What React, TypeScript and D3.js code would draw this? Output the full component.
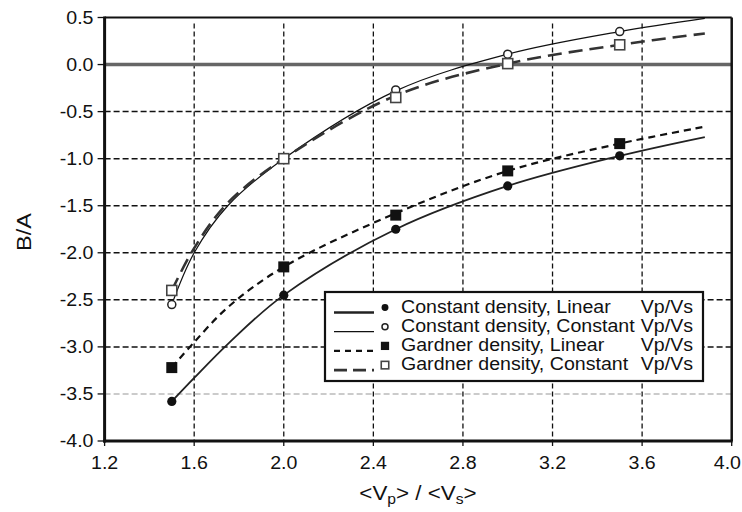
import * as d3 from 'd3';

// marker positions
const markerX = [1.5, 2.0, 2.5, 3.0, 3.5];
const constLinear = [-3.58, -2.45, -1.75, -1.29, -0.97];
const constConstant = [-2.55, -1.0, -0.27, 0.11, 0.35];
const gardLinear = [-3.22, -2.15, -1.6, -1.13, -0.84];
const gardConstant = [-2.4, -1.0, -0.35, 0.01, 0.21];

// fitted curves
const curveX = [1.5, 1.6, 1.75, 2.0, 2.5, 3.0, 3.5, 3.88];
const constLinearCurve = [-3.58, -3.33, -2.97, -2.45, -1.75, -1.29, -0.97, -0.77];
const constConstantCurve = [-2.55, -2.0, -1.5, -1.0, -0.28, 0.11, 0.35, 0.49];
const gardLinearCurve = [-3.22, -2.95, -2.58, -2.15, -1.58, -1.13, -0.84, -0.66];
const gardConstantCurve = [-2.4, -1.95, -1.47, -1.0, -0.33, 0.01, 0.21, 0.33];

const xTicks = [1.2, 1.6, 2.0, 2.4, 2.8, 3.2, 3.6, 4.0];
const yTicks = [0.5, 0.0, -0.5, -1.0, -1.5, -2.0, -2.5, -3.0, -3.5, -4.0];

const legendLabels = [
  'Constant density, Linear',
  'Constant density, Constant',
  'Gardner density, Linear',
  'Gardner density, Constant',
];

const W = 742;
const H = 512;
const left = 104.6, right = 731.7, top = 17.5, bottom = 441;
const font = '"Liberation Sans", Arial, Helvetica, sans-serif';

export default function App() {
  const x = d3.scaleLinear().domain([1.2, 4.0]).range([left, right]);
  const y = d3.scaleLinear().domain([-4, 0.5]).range([bottom, top]);

  const line = d3.line<[number, number]>()
    .x(d => x(d[0]))
    .y(d => y(d[1]))
    .curve(d3.curveCatmullRom.alpha(0.5));

  const path = (ys: number[]) => line(curveX.map((v, i) => [v, ys[i]]))!;

  const series = [
    { curve: constLinearCurve, pts: constLinear, marker: 'dot', stroke: '#222', width: 1.8, dash: undefined as string | undefined },
    { curve: constConstantCurve, pts: constConstant, marker: 'ring', stroke: '#111', width: 1.2, dash: undefined },
    { curve: gardLinearCurve, pts: gardLinear, marker: 'sq', stroke: '#111', width: 2.2, dash: '7,5' },
    { curve: gardConstantCurve, pts: gardConstant, marker: 'osq', stroke: '#333', width: 2.6, dash: '14,7' },
  ];

  const drawMarker = (kind: string, cx: number, cy: number, s: number, key?: string | number) => {
    if (kind === 'dot') return <circle key={key} cx={cx} cy={cy} r={4.6 * s} fill="#111" />;
    if (kind === 'ring') return <circle key={key} cx={cx} cy={cy} r={4 * s} fill="#fff" stroke="#222" strokeWidth={1.5} />;
    if (kind === 'sq') return <rect key={key} x={cx - 5.5 * s} y={cy - 5.5 * s} width={11 * s} height={11 * s} fill="#111" />;
    return <rect key={key} x={cx - 5 * s} y={cy - 5 * s} width={10 * s} height={10 * s} fill="#fff" stroke="#444" strokeWidth={1.6} />;
  };

  const stretch = (tx: number, ty: number, k = 1.12) => `translate(${tx},${ty}) scale(${k},1)`;

  const lgX = 325, lgY = 292, lgW = 378, lgH = 89;
  const rowY = (i: number) => lgY + 20.5 + i * 19.2;

  return (
    <svg width={W} height={H} style={{ position: 'absolute', left: 0, top: 0, background: '#fff' }} fontFamily={font}>
      <rect width={W} height={H} fill="#fff" />

      {/* grid */}
      {xTicks.slice(1, -1).map(t => (
        <line key={'gx' + t} x1={x(t)} x2={x(t)} y1={top + 6} y2={bottom} stroke="#111" strokeWidth={1.3} strokeDasharray="5,3" />
      ))}
      {yTicks.filter(t => t < 0 && t > -4).map(t => (
        <line key={'gy' + t} x1={left} x2={right} y1={y(t)} y2={y(t)}
          stroke={t === -3.5 ? '#bbb' : '#111'} strokeWidth={1.5} strokeDasharray="6,3" />
      ))}
      <line x1={left} x2={right} y1={y(0)} y2={y(0)} stroke="#666" strokeWidth={3.5} />

      {/* curves */}
      {series.map((s, i) => (
        <path key={'c' + i} d={path(s.curve)} fill="none" stroke={s.stroke} strokeWidth={s.width} strokeDasharray={s.dash} />
      ))}
      {series.map((s, i) => (
        <g key={'m' + i}>{markerX.map((v, j) => drawMarker(s.marker, x(v), y(s.pts[j]), 1, j))}</g>
      ))}

      {/* frame */}
      <line x1={left} x2={right} y1={top} y2={top} stroke="#111" strokeWidth={2} />
      <line x1={right} x2={right} y1={top} y2={bottom} stroke="#111" strokeWidth={2.5} />
      <line x1={left} x2={left} y1={top - 1} y2={bottom + 1.5} stroke="#111" strokeWidth={3} />
      <line x1={left - 1.5} x2={right + 1} y1={bottom} y2={bottom} stroke="#111" strokeWidth={3} />

      {/* y axis */}
      {yTicks.map(t => (
        <g key={'yt' + t}>
          <line x1={left - 7} x2={left} y1={y(t)} y2={y(t)} stroke="#111" strokeWidth={1.3} />
          <text transform={stretch(93.5, y(t) + 6.3)} textAnchor="end" fontSize={17.5} fill="#111">{t.toFixed(1)}</text>
        </g>
      ))}
      {/* x axis */}
      {xTicks.map((t, i) => {
        const last = i === xTicks.length - 1;
        return (
          <g key={'xt' + t}>
            <line x1={x(t)} x2={x(t)} y1={bottom} y2={bottom + 5} stroke="#111" strokeWidth={1.3} />
            <text transform={stretch(last ? 741 : x(t), 469)} textAnchor={last ? 'end' : 'middle'} fontSize={17.5} fill="#111">{t.toFixed(1)}</text>
          </g>
        );
      })}

      <text transform={`translate(31,232) rotate(-90) scale(1.12,1)`} textAnchor="middle" fontSize={21} fill="#111">B/A</text>
      <text transform={stretch(418, 500)} textAnchor="middle" fontSize={20} fill="#111">
        {'<V'}<tspan fontSize={14} dy={4}>p</tspan><tspan dy={-4}>{'> / <V'}</tspan><tspan fontSize={14} dy={4}>s</tspan><tspan dy={-4}>{'>'}</tspan>
      </text>

      {/* legend */}
      <rect x={lgX} y={lgY} width={lgW} height={lgH} fill="#fff" stroke="#111" strokeWidth={2.2} />
      {series.map((s, i) => (
        <g key={'lg' + i}>
          <line x1={334} x2={374} y1={rowY(i)} y2={rowY(i)} stroke={s.stroke} strokeWidth={i === 0 ? 2.6 : s.width}
            strokeDasharray={i === 2 ? '6,5' : i === 3 ? '13,6' : undefined} />
          {drawMarker(s.marker, 385, rowY(i) - 5, 0.75)}
          <text transform={stretch(401, rowY(i))} fontSize={17.5} fill="#111">{legendLabels[i]}</text>
          <text transform={stretch(693, rowY(i))} textAnchor="end" fontSize={17.5} fill="#111">Vp/Vs</text>
        </g>
      ))}
    </svg>
  );
}
